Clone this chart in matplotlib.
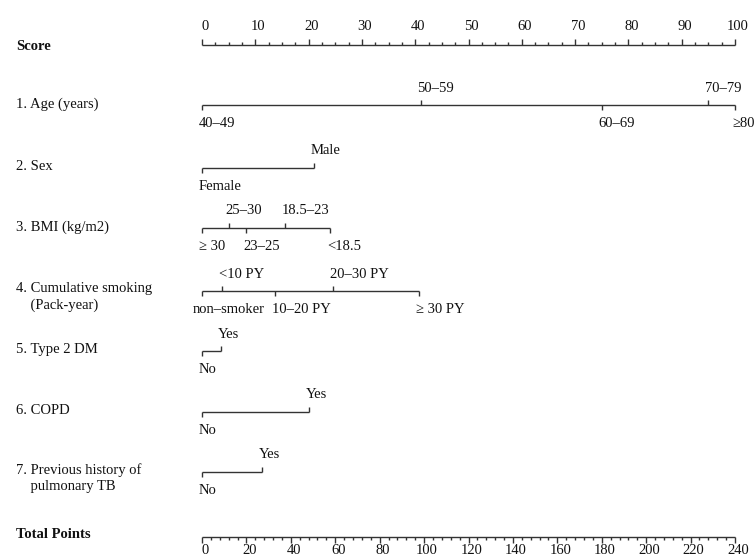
import matplotlib
matplotlib.use('Agg')
import matplotlib.pyplot as plt
import numpy as np

# Nomogram: points contributed by each risk factor, on a 0-100 score scale
score_major = np.arange(0, 101, 10)
score_minor = np.arange(0, 100.1, 2.5)
total_major = np.arange(0, 241, 20)
total_minor = np.arange(0, 240.1, 4)
total_max = 240

row_titles = ['1. Age (years)', '2. Sex', '3. BMI (kg/m2)',
              '4. Cumulative smoking\n    (Pack-year)', '5. Type 2 DM', '6. COPD',
              '7. Previous history of\n    pulmonary TB']

age_labels = ['40–49', '50–59', '60–69', '70–79', '≥80']
age_points = [0, 41, 75, 95, 100]
sex_labels = ['Female', 'Male']
sex_points = [0, 21]
bmi_labels = ['≥ 30', '25–30', '23–25', '18.5–23', '<18.5']
bmi_points = [0, 5, 8.3, 15.6, 24]
smoke_labels = ['non–smoker', '<10 PY', '10–20 PY', '20–30 PY', '≥ 30 PY']
smoke_points = [0, 3.7, 13.7, 24.6, 40.8]
dm_labels = ['No', 'Yes']
dm_points = [0, 3.5]
copd_labels = ['No', 'Yes']
copd_points = [0, 20]
tb_labels = ['No', 'Yes']
tb_points = [0, 11.2]

rows = [(age_labels, age_points), (sex_labels, sex_points),
        (bmi_labels, bmi_points), (smoke_labels, smoke_points),
        (dm_labels, dm_points), (copd_labels, copd_points),
        (tb_labels, tb_points)]

# layout in pixels (figure is 754 x 556 at 100 dpi)
W, H = 754, 556
X0, X1 = 202, 735
row_y = [105, 168, 228, 291, 351, 412, 472]
score_y = 44.5
total_y = 537
LABEL_X = 16
INK = '#111111'
LINE = '#333333'

plt.rcParams['font.family'] = ['Liberation Serif', 'DejaVu Serif']
plt.rcParams['font.size'] = 10.5

fig = plt.figure(figsize=(W / 100, H / 100), dpi=100)
ax = fig.add_axes([X0 / W, 0, (X1 - X0) / W, 1])
ax.set_xlim(0, 100)
ax.set_ylim(H, 0)
ax.axis('off')

px = 100 / (X1 - X0)   # score units per pixel
label_x = (LABEL_X - X0) * px
kw = dict(color=LINE, lw=1, solid_capstyle='butt', clip_on=False)

# Score scale on top
ax.plot([0, 100], [score_y, score_y], **kw)
for v in score_minor:
    h = 6 if v % 10 == 0 else 3
    ax.plot([v, v], [score_y, score_y - h], **kw)
for v in score_major:
    ax.text(v + 3 * px, score_y - 18, f'{v}', ha='center', va='center', color=INK)
ax.text(label_x, score_y + 1.5, 'Score', fontweight='bold', va='center', color=INK)

# One axis per predictor, labels alternating below / above
for title, (labels, pts), y in zip(row_titles, rows, row_y):
    ax.plot([min(pts), max(pts)], [y, y], **kw)
    for i, (lab, p) in enumerate(zip(labels, pts)):
        up = i % 2 == 1
        ax.plot([p, p], [y, y - 5 if up else y + 5], **kw)
        dx = -9 if lab == 'non–smoker' else -3
        ax.text(p + dx * px, y - 17 if up else y + 18.5, lab,
                ha='left', va='center', color=INK)
    ax.text(label_x, y + (6 if '\n' in title else -1), title,
            va='center', color=INK, linespacing=1.35)

# Total points scale at the bottom
tot = 100 / total_max
ax.plot([0, 100], [total_y, total_y], **kw)
for v in total_minor:
    h = 6 if v % 20 == 0 else 3
    ax.plot([v * tot, v * tot], [total_y, total_y + h], **kw)
for v in total_major:
    ax.text(v * tot + 3 * px, total_y + 13, f'{v}', ha='center', va='center', color=INK)
ax.text(label_x, total_y - 2, 'Total Points', fontweight='bold', va='center', color=INK)

fig.savefig('out.png', dpi=100, facecolor='white')
